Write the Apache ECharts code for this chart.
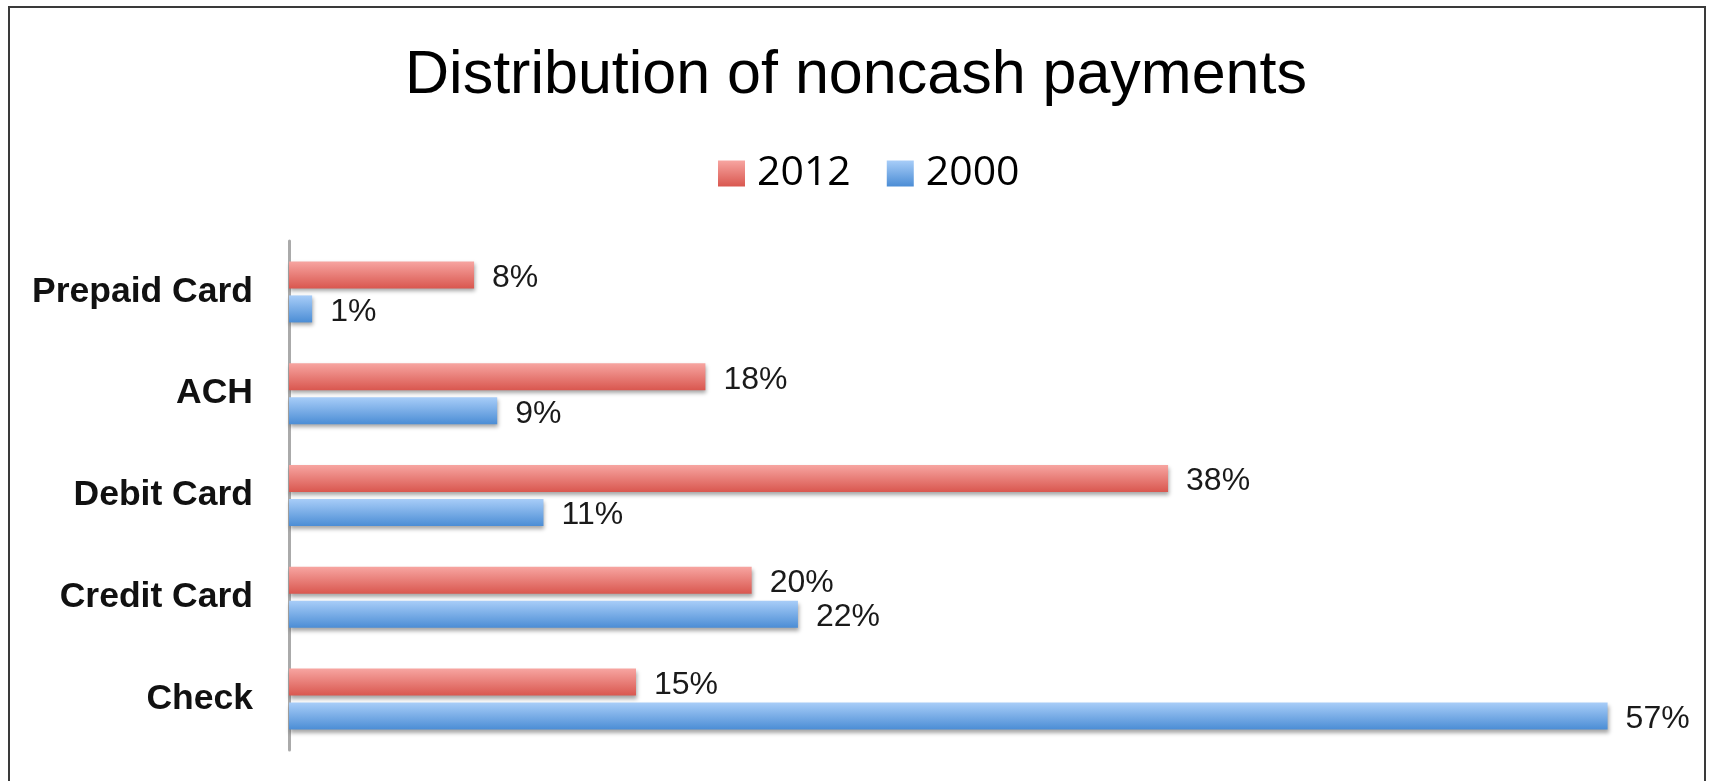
<!DOCTYPE html>
<html>
<head>
<meta charset="utf-8">
<script src="https://cdn.jsdelivr.net/npm/echarts@6/dist/echarts.min.js"></script>
<style>
  html, body { margin: 0; padding: 0; background: #fff; }
  #frame { position: absolute; left: 8px; top: 6px; width: 1698px; height: 800px; border: 2px solid #3a3a3a; box-sizing: border-box; }
  #chart { position: absolute; left: 0; top: 0; width: 1712px; height: 781px; }
</style>
</head>
<body>
<div id="frame"></div>
<div id="chart"></div>
<script>
const categories = ['Prepaid Card', 'ACH', 'Debit Card', 'Credit Card', 'Check'];
const values2012 = [8, 18, 38, 20, 15];
const values2000 = [1, 9, 11, 22, 57];
const seriesNames = ['2012', '2000'];

const redGrad = new echarts.graphic.LinearGradient(0, 0, 0, 1, [
  { offset: 0, color: '#f7a5a1' },
  { offset: 1, color: '#d9574f' }
]);
const blueGrad = new echarts.graphic.LinearGradient(0, 0, 0, 1, [
  { offset: 0, color: '#a8cdf8' },
  { offset: 1, color: '#4b8dd5' }
]);

const labelStyle = {
  show: true,
  position: 'right',
  distance: 18,
  offset: [0, 3],
  formatter: p => p.value + '%',
  fontFamily: 'Liberation Sans',
  fontSize: 32,
  color: '#1a1a1a'
};

const chart = echarts.init(document.getElementById('chart'), null, { renderer: 'canvas' });
chart.setOption({
  animation: false,
  backgroundColor: 'transparent',
  title: {
    text: 'Distribution of noncash payments',
    left: 'center',
    top: 41,
    textStyle: { fontFamily: 'Liberation Sans', fontSize: 61, fontWeight: 'normal', color: '#000' }
  },
  legend: {
    data: seriesNames,
    top: 148,
    left: 713,
    icon: 'rect',
    itemWidth: 27,
    itemHeight: 26,
    itemGap: 36,
    textStyle: { fontFamily: 'Open Sans', fontSize: 41, color: '#000', padding: [0, 0, 0, 7] }
  },
  grid: { left: 289, right: 35, top: 241, bottom: 31, containLabel: false },
  xAxis: {
    type: 'value',
    min: 0,
    max: 60,
    show: false
  },
  yAxis: {
    type: 'category',
    data: categories,
    inverse: true,
    axisLine: { show: true, lineStyle: { color: '#aaaaaa', width: 3 } },
    axisTick: { show: false },
    axisLabel: {
      margin: 36,
      fontFamily: 'Liberation Sans',
      fontWeight: 'bold',
      fontSize: 35.5,
      color: '#111',
      padding: [8, 0, 0, 0]
    }
  },
  series: [
    {
      name: seriesNames[0],
      type: 'bar',
      data: values2012,
      barWidth: 27,
      barGap: '26%',
      itemStyle: { color: redGrad, shadowColor: 'rgba(0,0,0,0.35)', shadowBlur: 4, shadowOffsetY: 3, shadowOffsetX: 1 },
      label: labelStyle
    },
    {
      name: seriesNames[1],
      type: 'bar',
      data: values2000,
      barWidth: 27,
      barGap: '26%',
      itemStyle: { color: blueGrad, shadowColor: 'rgba(0,0,0,0.35)', shadowBlur: 4, shadowOffsetY: 3, shadowOffsetX: 1 },
      label: labelStyle
    }
  ]
});
</script>
</body>
</html>
